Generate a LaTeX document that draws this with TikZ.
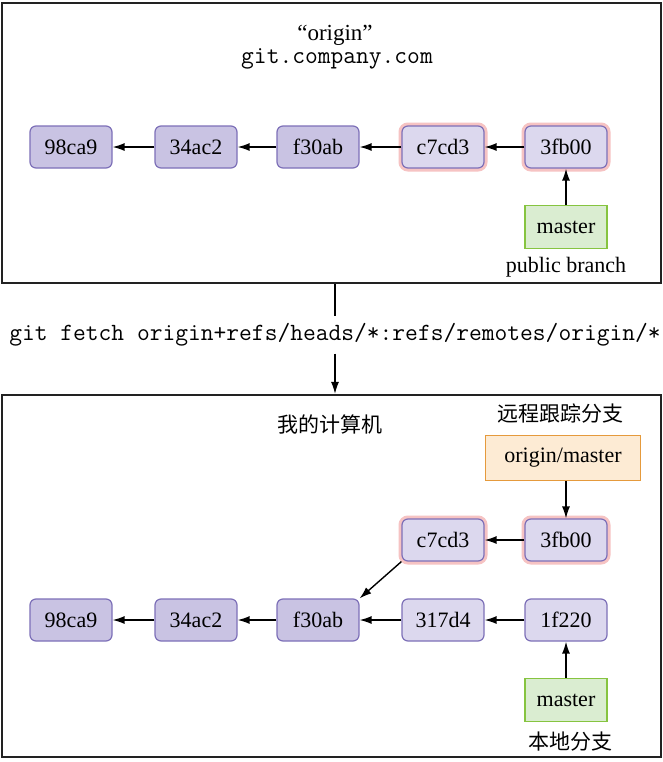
\documentclass[tikz,border=0pt]{standalone}
\usepackage{fontspec}
\setmainfont{Liberation Serif}
\newfontfamily\cjk{Noto Sans CJK SC}
\usetikzlibrary{arrows.meta}
\definecolor{commitfill}{HTML}{DCD8EE}
\definecolor{oldfill}{HTML}{C9C3E3}
\definecolor{commitline}{HTML}{7D70B8}
\definecolor{halo}{HTML}{F6C3C3}
\definecolor{branchfill}{HTML}{DAEDD1}
\definecolor{branchline}{HTML}{86C440}
\definecolor{remotefill}{HTML}{FDEBD4}
\definecolor{remoteline}{HTML}{E59A3C}
\definecolor{framec}{HTML}{222222}
\tikzset{
  txt/.style={font=\fontsize{11}{12}\selectfont},
  commit/.style={txt, draw=commitline, fill=commitfill, rounded corners=3pt, minimum width=41pt, minimum height=21pt, line width=0.6pt},
  oldcommit/.style={commit, fill=oldfill},
  shared/.style={commit, preaction={draw=halo, line width=3.5pt}},
  branch/.style={txt, draw=branchline, fill=branchfill, minimum width=41pt, minimum height=21.5pt, line width=0.8pt},
  remote/.style={txt, draw=remoteline, fill=remotefill, minimum width=77.5pt, minimum height=22.5pt, line width=0.8pt},
  link/.style={-{Latex[length=6pt,width=4pt]}, line width=0.7pt},
  frame/.style={draw=framec, line width=1.1pt, inner sep=0pt},
  mono/.style={font=\ttfamily\fontsize{12.4}{13}\selectfont},
  cjktxt/.style={font=\cjk\fontsize{10.5}{12}\selectfont}
}
\begin{document}
\begin{tikzpicture}[x=0.5pt,y=-0.5pt]
\useasboundingbox[fill=white] (0,0) rectangle (663,762);
% frames
\node[frame, minimum width=329.5pt, minimum height=140pt] (origin) at (331.5,143) {};
\node[frame, minimum width=329.5pt, minimum height=181pt] (local) at (331.5,576) {};
% remote repository
\node[txt, font=\fontsize{11.5}{12}\selectfont] (oname) at (335,35) {“origin”};
\node[mono] (ohost) at (337,59) {git.company.com};
\node[oldcommit] (o98) at (71,147) {98ca9};
\node[oldcommit] (o34) at (196,147) {34ac2};
\node[oldcommit] (of30) at (318,147) {f30ab};
\node[shared] (oc7) at (443,147) {c7cd3};
\node[shared] (o3f) at (566,147) {3fb00};
\node[branch] (omaster) at (566,227) {master};
\node[txt] (opublic) at (566,267) {public branch};
\draw[link] (o34) -- (o98);
\draw[link] (of30) -- (o34);
\draw[link] (oc7) -- (of30);
\draw[link] (o3f) -- (oc7);
\draw[link] (omaster) -- (o3f);
% fetch
\node[mono] (fetch) at (335,335) {git fetch origin+refs/heads/*:refs/remotes/origin/*};
\draw[line width=0.7pt] (fetch |- origin.south) -- (fetch);
\draw[link] (fetch) -- (fetch |- local.north);
% local repository
\node[cjktxt] (lname) at (330,424) {我的计算机};
\node[cjktxt] (ltrack) at (560,414) {远程跟踪分支};
\node[remote] (lremote) at (563,458) {origin/master};
\node[shared] (lc7) at (443,540) {c7cd3};
\node[shared] (l3f) at (566,540) {3fb00};
\node[oldcommit] (l98) at (71,620) {98ca9};
\node[oldcommit] (l34) at (196,620) {34ac2};
\node[oldcommit] (lf30) at (318,620) {f30ab};
\node[commit] (l317) at (443,620) {317d4};
\node[commit] (l1f) at (566,620) {1f220};
\node[branch] (lmaster) at (566,700) {master};
\node[cjktxt] (lbranch) at (570,742) {本地分支};
\draw[link] (l3f |- lremote.south) -- (l3f);
\draw[link] (l3f) -- (lc7);
\draw[link] (lc7.south west) -- (lf30.north east);
\draw[link] (l34) -- (l98);
\draw[link] (lf30) -- (l34);
\draw[link] (l317) -- (lf30);
\draw[link] (l1f) -- (l317);
\draw[link] (lmaster) -- (l1f);
\end{tikzpicture}
\end{document}
